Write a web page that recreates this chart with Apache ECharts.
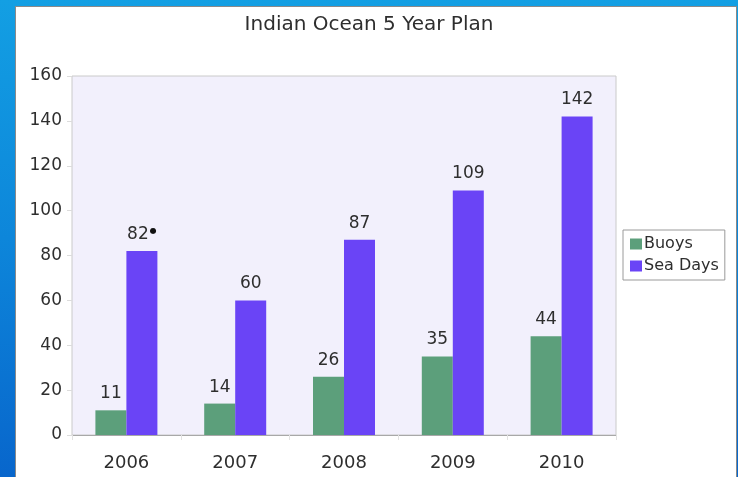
<!DOCTYPE html>
<html>
<head>
<meta charset="utf-8">
<script src="https://cdn.jsdelivr.net/npm/echarts@6/dist/echarts.min.js"></script>
<style>
  html, body { margin: 0; padding: 0; }
  body {
    width: 738px; height: 477px; overflow: hidden; position: relative;
    background: linear-gradient(180deg, #139fe3 0%, #0d86da 50%, #0866cc 100%);
  }
  #panel {
    position: absolute; left: 15px; top: 6px; width: 720px; height: 475px;
    background: #fff; border: 1px solid #8a8a8a;
  }
  #chart { position: absolute; left: 0; top: 0; width: 738px; height: 477px; }
</style>
</head>
<body>
<div id="panel"></div>
<div id="chart"></div>
<script>
const years = ['2006', '2007', '2008', '2009', '2010'];
const buoys = [11, 14, 26, 35, 44];
const seaDays = [82, 60, 87, 109, 142];
const yTicks = { min: 0, max: 160, interval: 20 };

const chart = echarts.init(document.getElementById('chart'));
const font = 'DejaVu Sans, Verdana, sans-serif';

chart.setOption({
    backgroundColor: 'transparent',
    textStyle: { fontFamily: font },
    title: {
        text: 'Indian Ocean 5 Year Plan',
        left: 'center',
        top: 10,
        textStyle: { fontSize: 20, fontWeight: 'normal', color: '#2e2e2e', fontFamily: font }
    },
    legend: {
        orient: 'vertical',
        left: 623,
        top: 230,
        data: ['Buoys', 'Sea Days'],
        icon: 'rect',
        itemWidth: 12,
        itemHeight: 11,
        itemGap: 6,
        padding: [6, 6, 6, 7],
        borderColor: '#9a9a9a',
        borderWidth: 1,
        textStyle: { fontSize: 16, color: '#2e2e2e', fontFamily: font, padding: [0, 0, 0, -3] }
    },
    grid: {
        left: 72, top: 76, width: 544, height: 359,
        show: true,
        backgroundColor: '#f2f0fc',
        borderColor: '#cacaca',
        borderWidth: 1
    },
    xAxis: {
        type: 'category',
        data: years,
        axisLine: { lineStyle: { color: '#a8a8a8' } },
        axisTick: { show: true, length: 5, lineStyle: { color: '#e2e2e2' } },
        axisLabel: { fontSize: 18, color: '#2e2e2e', margin: 19, fontFamily: font }
    },
    yAxis: {
        type: 'value',
        min: yTicks.min, max: yTicks.max, interval: yTicks.interval,
        axisLine: { show: false },
        axisTick: { show: true, length: 5, lineStyle: { color: '#dcdcdc' } },
        splitLine: { show: false },
        axisLabel: { fontSize: 17, color: '#2e2e2e', margin: 10, fontFamily: font }
    },
    series: [
        {
            name: 'Buoys',
            type: 'bar',
            data: buoys,
            barWidth: 31,
            barGap: '0%',
            itemStyle: { color: '#5c9f7b' },
            label: { show: true, position: 'top', distance: 8, fontSize: 17, color: '#2e2e2e', fontFamily: font }
        },
        {
            name: 'Sea Days',
            type: 'bar',
            data: seaDays,
            barWidth: 31,
            barGap: '0%',
            itemStyle: { color: '#6a44f6' },
            label: {
                show: true, position: 'top', distance: 8, fontSize: 17, color: '#2e2e2e', fontFamily: font,
                formatter: function (p) {
                    return p.dataIndex === 0 ? p.value + '{dot|●}' : String(p.value);
                },
                rich: {
                    dot: { fontSize: 8, color: '#111', padding: [0, 0, 8, 1] }
                }
            }
        }
    ]
});
</script>
</body>
</html>
